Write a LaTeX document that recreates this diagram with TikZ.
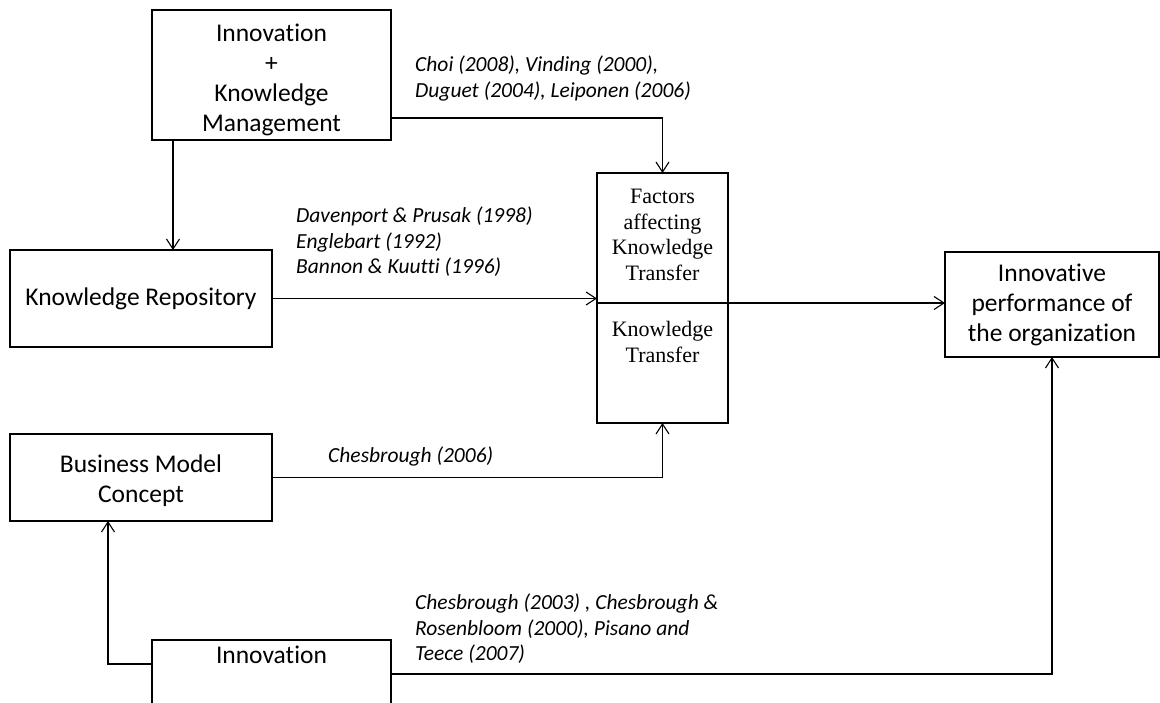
\documentclass[tikz,border=0pt]{standalone}
\usepackage{fontspec}
\setmainfont{Carlito}[Ligatures=NoCommon]
\newfontfamily\timesfont{Liberation Serif}
\usetikzlibrary{arrows.meta}
\begin{document}
\begin{tikzpicture}[x=1pt,y=-1pt,
  box/.style={draw, line width=1.1pt, inner sep=0pt, outer sep=0pt, align=center,
    font=\fontsize{25.5}{30}\selectfont},
  plainbox/.style={draw, line width=1.1pt, inner sep=0pt, outer sep=0pt},
  boxtext/.style={inner sep=0pt, align=center, font=\fontsize{25.5}{30}\selectfont},
  cite/.style={anchor=west, align=left, inner sep=0pt,
    font=\fontsize{21.5}{25.5}\selectfont\itshape},
  ktext/.style={align=center, inner sep=0pt,
    font=\timesfont\fontsize{22}{25.5}\selectfont},
  link/.style={line width=1.1pt, -{Straight Barb[length=10pt,width=13pt]}}]
\useasboundingbox (0,0) rectangle (1160,703);
\clip (0,0) rectangle (1160,703);

% boxes
\node[plainbox, minimum width=239pt, minimum height=130pt] (ikm) at (271.5,75) {};
\node[boxtext] (ikmtext) at (271.5,80) {Innovation\\+\\Knowledge\\Management};
\node[box, minimum width=262pt, minimum height=97pt] (kr) at (141,298.5)
  {Knowledge Repository};
\node[plainbox, minimum width=262pt, minimum height=87pt] (bmc) at (141,477.5) {};
\node[boxtext] (bmctext) at (141,481) {Business Model\\Concept};
\node[plainbox, minimum width=239pt, minimum height=130pt] (innov) at (271.5,705) {};
\node[boxtext] (innovtext) at (271.5,655) {Innovation};
\node[box, minimum width=214pt, minimum height=105pt] (ip) at (1052,304.5)
  {Innovative\\performance of\\the organization};

% two-part knowledge transfer box
\node[plainbox, minimum width=131pt, minimum height=130pt] (fktT) at (662.5,238) {};
\node[plainbox, minimum width=131pt, minimum height=120pt] (fktB) at (662.5,363) {};
\node[ktext] (fktTtext) at (662.5,235) {Factors\\affecting\\Knowledge\\Transfer};
\node[ktext] (fktBtext) at (662.5,342) {Knowledge\\Transfer};

% references
\node[cite] (c1) at (415,78.5) {Choi (2008), Vinding (2000),\\Duguet (2004), Leiponen (2006)};
\node[cite] (c2) at (296,242) {Davenport \& Prusak (1998)\\Englebart (1992)\\Bannon \& Kuutti (1996)};
\node[cite] (c3) at (328,456) {Chesbrough (2006)};
\node[cite] (c4) at (415,629) {Chesbrough (2003) , Chesbrough \&\\Rosenbloom (2000), Pisano and\\Teece (2007)};

% connectors
\draw[link] ([yshift=22pt]ikm.south east) -| (fktT.north);
\draw[link] ([xshift=21pt]ikm.south west) -- ([xshift=21pt]ikm.south west |- kr.north);
\draw[link] (kr.east) -- (kr.east -| fktT.west);
\draw[link] (fktT.south east) -- (fktT.south east -| ip.west);
\draw[link] (bmc.east) -| (fktB.south);
\draw[link] ([yshift=-24pt]innov.north west) -| ([xshift=98pt]bmc.south west);
\draw[link] ([yshift=-34pt]innov.north east) -| (ip.south);
\end{tikzpicture}
\end{document}
